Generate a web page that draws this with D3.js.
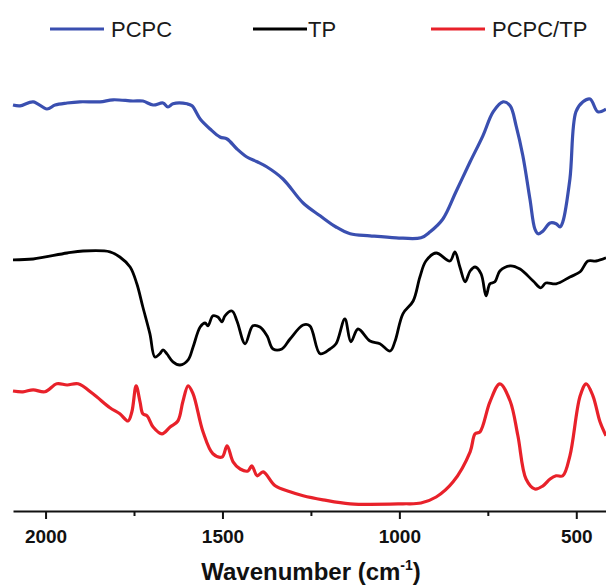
<!DOCTYPE html>
<html>
<head>
<meta charset="utf-8">
<script src="https://d3js.org/d3.v7.min.js"></script>
<style>
  body { margin: 0; background: #fff; }
  svg { display: block; font-family: "Liberation Sans", Arial, sans-serif; }
</style>
</head>
<body>
<div id="chart"></div>
<script>
// FTIR spectra, transmittance in arbitrary units (curves already offset)
const seriesNames = ["PCPC", "TP", "PCPC/TP"];
const seriesColors = ["#3a4fb0", "#000000", "#e8212a"];

const pcpcWave = [2092, 2072, 2035, 1996, 1973, 1939, 1903, 1846, 1809, 1753, 1725, 1696, 1668, 1654, 1640, 1600, 1586, 1563, 1535, 1507, 1487, 1459, 1431, 1402, 1374, 1329, 1272, 1224, 1179, 1139, 1083, 1009, 939, 913, 877, 840, 800, 764, 735, 707, 687, 670, 651, 631, 617, 608, 594, 574, 557, 546, 538, 518, 501, 481, 461, 439, 416];
const pcpcValue = [101.5, 101.3, 102.3, 100.5, 101.5, 102, 102.3, 102.3, 102.8, 102.5, 102.5, 101.5, 102, 101, 101.8, 101.8, 101.3, 98, 95.5, 93.5, 93, 90.5, 88.5, 87.3, 86, 83, 77, 73.8, 71, 69.3, 68.8, 68.3, 68.3, 69.8, 73, 79.8, 87.3, 93.8, 99.8, 102.3, 101.3, 96.3, 88.8, 78, 70.5, 69.3, 70, 72, 71.8, 71, 72.3, 83, 99.8, 102.3, 103, 99.8, 100.5];

const tpWave = [2092, 2035, 1939, 1894, 1818, 1790, 1761, 1742, 1725, 1705, 1691, 1677, 1668, 1657, 1640, 1620, 1597, 1583, 1563, 1549, 1541, 1527, 1513, 1501, 1493, 1473, 1459, 1436, 1414, 1394, 1374, 1357, 1332, 1309, 1272, 1253, 1224, 1196, 1179, 1154, 1137, 1117, 1083, 1055, 1026, 1012, 990, 961, 942, 925, 896, 857, 843, 829, 814, 800, 786, 769, 755, 744, 730, 716, 687, 659, 622, 600, 586, 557, 518, 489, 467, 444, 416];
const tpValue = [62.8, 63, 64.5, 65, 64.8, 63.5, 61, 56.8, 51, 44.3, 38.5, 39.3, 40.3, 39.3, 37.3, 36.5, 37.8, 41, 46, 47, 46.3, 48.8, 48.5, 47.3, 48.8, 50, 47.5, 41.8, 46.3, 46, 43.8, 40.5, 40.5, 43, 46.5, 46.3, 39.3, 40.5, 41.8, 48, 42.3, 45.5, 42.5, 41.8, 40, 42.5, 49.3, 52.5, 58.5, 62.5, 64.5, 62.5, 64.8, 61, 57.3, 60, 61, 59.3, 53.8, 56.8, 57.3, 60, 61.3, 60.5, 57.5, 55.8, 57, 56.8, 58.5, 59.8, 62.5, 62.5, 63.3];

const mixWave = [2092, 2064, 2035, 2002, 1968, 1939, 1908, 1866, 1818, 1790, 1767, 1756, 1744, 1733, 1725, 1713, 1696, 1671, 1648, 1626, 1612, 1597, 1583, 1555, 1527, 1501, 1487, 1470, 1450, 1428, 1417, 1402, 1385, 1351, 1309, 1272, 1216, 1139, 990, 939, 896, 848, 800, 786, 772, 744, 716, 687, 665, 642, 617, 594, 574, 557, 538, 518, 489, 472, 453, 433, 416];
const mixValue = [30, 29.8, 30.3, 29.8, 31.8, 31.5, 31.8, 29.3, 25.8, 24.3, 22.5, 24.8, 31.3, 27.3, 24.3, 23.8, 21, 19.3, 21, 22.5, 27.3, 31.3, 29.3, 19.8, 14.3, 13.5, 16.3, 12.3, 10.5, 10, 11.3, 8.8, 9.8, 6.3, 4.8, 3.8, 2.8, 1.8, 1.8, 2, 3.5, 7.3, 14.8, 19.3, 19.8, 27.3, 31.8, 27.5, 18.8, 8, 5.5, 6.3, 8, 8.8, 8.8, 13.8, 28.8, 31.8, 28.8, 22.3, 18.8];

const majorTicks = [2000, 1500, 1000, 500];
const minorTicks = [1750, 1250, 750];

const width = 606;
const height = 585;

const series = [
  { name: seriesNames[0], color: seriesColors[0], wave: pcpcWave, value: pcpcValue, width: 3.2 },
  { name: seriesNames[1], color: seriesColors[1], wave: tpWave, value: tpValue, width: 2.8 },
  { name: seriesNames[2], color: seriesColors[2], wave: mixWave, value: mixValue, width: 3.2 }
];

const x = d3.scaleLinear().domain([2092, 416]).range([13, 606]);
const y = d3.scaleLinear().domain([0, 110]).range([511, 71]);

const svg = d3.select("#chart").append("svg")
  .attr("width", width)
  .attr("height", height);

const line = d3.line()
  .x(d => x(d[0]))
  .y(d => y(d[1]))
  .curve(d3.curveCatmullRom.alpha(0.5));

series.forEach(function(s) {
  const pts = s.wave.map((w, i) => [w, s.value[i]]);
  svg.append("path")
    .datum(pts)
    .attr("fill", "none")
    .attr("stroke", s.color)
    .attr("stroke-width", s.width)
    .attr("stroke-linejoin", "round")
    .attr("d", line);
});

// x axis
const axisY = 511;
const gMinor = svg.append("g")
  .attr("transform", `translate(0,${axisY})`)
  .call(d3.axisBottom(x).tickValues(minorTicks).tickSize(5).tickSizeOuter(0).tickFormat(""));
gMinor.select(".domain").remove();
gMinor.selectAll("line").attr("stroke", "#111").attr("stroke-width", 2);

const gMajor = svg.append("g")
  .attr("transform", `translate(0,${axisY})`)
  .call(d3.axisBottom(x).tickValues(majorTicks).tickSize(8).tickSizeOuter(0).tickFormat(d3.format("d")));
gMajor.select(".domain").attr("stroke", "#111").attr("stroke-width", 2);
gMajor.selectAll("line").attr("stroke", "#111").attr("stroke-width", 2);
gMajor.selectAll("text")
  .attr("y", 32)
  .attr("dy", null)
  .attr("fill", "#111")
  .style("font-size", "19px")
  .style("font-weight", "bold");

const title = svg.append("text")
  .attr("x", 311)
  .attr("y", 580)
  .attr("text-anchor", "middle")
  .attr("fill", "#111")
  .style("font-size", "24px")
  .style("font-weight", "bold");
title.append("tspan").text("Wavenumber (cm");
title.append("tspan").attr("dy", -10).style("font-size", "14px").text("-1");
title.append("tspan").attr("dy", 10).text(")");

// legend
const legendX = [50, 253, 431];
const legend = svg.append("g");
series.forEach(function(s, i) {
  legend.append("line")
    .attr("x1", legendX[i]).attr("x2", legendX[i] + 54)
    .attr("y1", 29).attr("y2", 29)
    .attr("stroke", s.color)
    .attr("stroke-width", 3);
  legend.append("text")
    .attr("x", legendX[i] + (i === 1 ? 55 : 61))
    .attr("y", 37)
    .attr("fill", "#1a1a1a")
    .style("font-size", "22px")
    .text(s.name);
});
</script>
</body>
</html>
